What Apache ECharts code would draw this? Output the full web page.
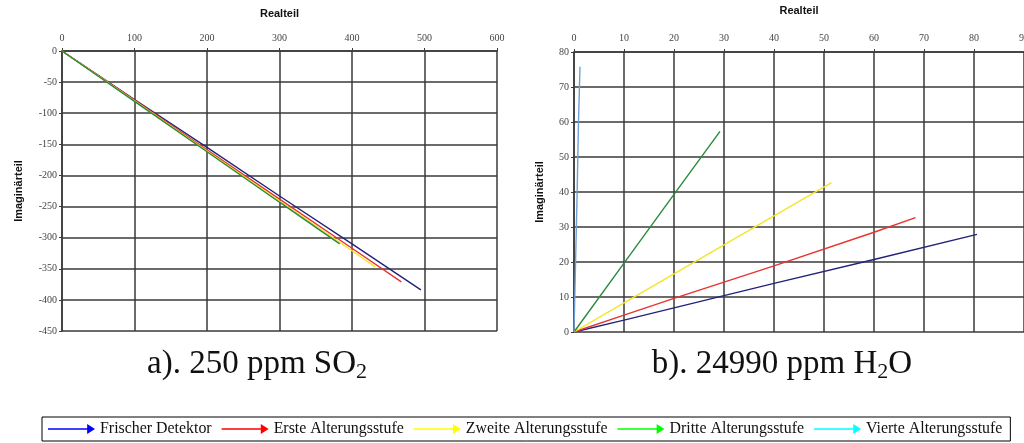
<!DOCTYPE html>
<html><head><meta charset="utf-8">
<script src="https://cdn.jsdelivr.net/npm/echarts@6/dist/echarts.min.js"></script>
<style>html,body{margin:0;padding:0;background:#fff;overflow:hidden}#c{width:1032px;height:443px}</style>
</head><body><div id="c"></div>
<script>
// ---- data ----
const seriesNames = ['Frischer Detektor','Erste Alterungsstufe','Zweite Alterungsstufe','Dritte Alterungsstufe','Vierte Alterungsstufe'];
const lineColors = ['#23237a','#e8332e','#f2e52a','#2a8a3c','#6f9fd6'];
const legendColors = ['#0000ff','#ff0000','#ffff00','#00ff00','#00ffff'];
// a) 250 ppm SO2  [Realteil, Imaginärteil]
const so2Frisch = [[0,0],[100,-78],[200,-155],[300,-233],[400,-310],[495,-384]];
const so2Erste  = [[0,0],[100,-79],[200,-159],[300,-238],[400,-317],[468,-371]];
const so2Zweite = [[0,0],[100,-80],[200,-161],[300,-241],[400,-321],[432,-347]];
const so2Dritte = [[0,0],[100,-81],[200,-162],[300,-243],[383,-310]];
// b) 24990 ppm H2O
const h2oFrisch = [[0,0],[10,3.4],[20,6.9],[40,13.9],[60,20.7],[80.6,27.9]];
const h2oErste  = [[0,0],[10,4.8],[20,9.6],[40,18.9],[60,28.5],[68.3,32.7]];
const h2oZweite = [[0,0],[10,8.3],[20,16.6],[40,33.2],[51.5,42.7]];
const h2oDritte = [[0,0],[10,19.7],[20,39.3],[29.2,57.3]];
const h2oVierte = [[0,0],[0.6,38],[0.9,60],[1.2,75.8]];
const so2Ticks = {min:-450, max:0, interval:50, xmin:0, xmax:600, xint:100};
const h2oTicks = {min:0, max:80, interval:10, xmin:0, xmax:90, xint:10};

const chart = echarts.init(document.getElementById('c'));
const lbl = {fontFamily:'Liberation Serif', fontSize:10, color:'#444'};
const nameStyle = {fontFamily:'Liberation Sans', fontSize:11, fontWeight:'bold', color:'#111'};
const gridLine = {show:true, lineStyle:{color:'#3a3a3a', width:1.5}};
const axLine = {show:true, onZero:false, lineStyle:{color:'#3a3a3a', width:1.5}};

function xAx(idx, t, nameGap, labelMargin){
  return {type:'value', gridIndex:idx, position:'top', min:t.xmin, max:t.xmax, interval:t.xint,
    name:'Realteil', nameLocation:'middle', nameGap:nameGap, nameTextStyle:nameStyle,
    axisLine:axLine, axisTick:{show:true,length:3,lineStyle:{color:'#3a3a3a'}},
    axisLabel:Object.assign({margin:labelMargin}, lbl), splitLine:gridLine};
}
function yAx(idx, t, nameGap){
  return {type:'value', gridIndex:idx, min:t.min, max:t.max, interval:t.interval,
    name:'Imaginärteil', nameLocation:'middle', nameGap:nameGap, nameRotate:90, nameTextStyle:nameStyle,
    axisLine:axLine, axisTick:{show:true,length:3,lineStyle:{color:'#3a3a3a'}},
    axisLabel:Object.assign({margin:5}, lbl), splitLine:gridLine};
}
function ser(name, data, xi, color){
  return {type:'line', name:name, data:data, xAxisIndex:xi, yAxisIndex:xi, showSymbol:false,
    symbol:'none', lineStyle:{color:color, width:1.4}, itemStyle:{color:color}, z:3};
}
const arrow = 'path://M0,4.2 L40,4.2 L40,0 L48,5 L40,10 L40,5.8 L0,5.8 Z';

const series = [
  ser(seriesNames[0], so2Frisch, 0, lineColors[0]),
  ser(seriesNames[1], so2Erste, 0, lineColors[1]),
  ser(seriesNames[2], so2Zweite, 0, lineColors[2]),
  ser(seriesNames[3], so2Dritte, 0, lineColors[3]),
  ser(seriesNames[0], h2oFrisch, 1, lineColors[0]),
  ser(seriesNames[1], h2oErste, 1, lineColors[1]),
  ser(seriesNames[2], h2oZweite, 1, lineColors[2]),
  ser(seriesNames[3], h2oDritte, 1, lineColors[3]),
  ser(seriesNames[4], h2oVierte, 1, lineColors[4])
];

const capRich = {m:{fontFamily:'Liberation Serif', fontSize:33, fill:'#111'},
                 s:{fontFamily:'Liberation Serif', fontSize:22, fill:'#111', padding:[16,0,0,0]}};

chart.setOption({
  animation:false,
  grid:[{left:62, top:51, width:435, height:280, containLabel:false},
        {left:574, top:47, width:452, height:285, containLabel:false}],
  xAxis:[xAx(0, so2Ticks, 32, 8), xAx(1, h2oTicks, 36, 9)],
  yAxis:[yAx(0, so2Ticks, 38), yAx(1, h2oTicks, 29)],
  legend:{left:42, top:417, width:985, orient:'horizontal', borderColor:'#000', borderWidth:1,
    padding:[4,8,4,6], itemGap:10, itemWidth:47, itemHeight:10, selectedMode:false,
    textStyle:{fontFamily:'Liberation Serif', fontSize:15.9, color:'#111'},
    data:seriesNames.map((n,i)=>({name:n, icon:arrow, itemStyle:{color:legendColors[i]}}))},
  graphic:[
    {type:'text', x:257, y:345, style:{text:'{m|a). 250 ppm SO}{s|2}', textAlign:'center', rich:capRich}},
    {type:'text', x:782, y:345, style:{text:'{m|b). 24990 ppm H}{s|2}{m|O}', textAlign:'center', rich:capRich}}
  ],
  series:series
});
</script></body></html>
